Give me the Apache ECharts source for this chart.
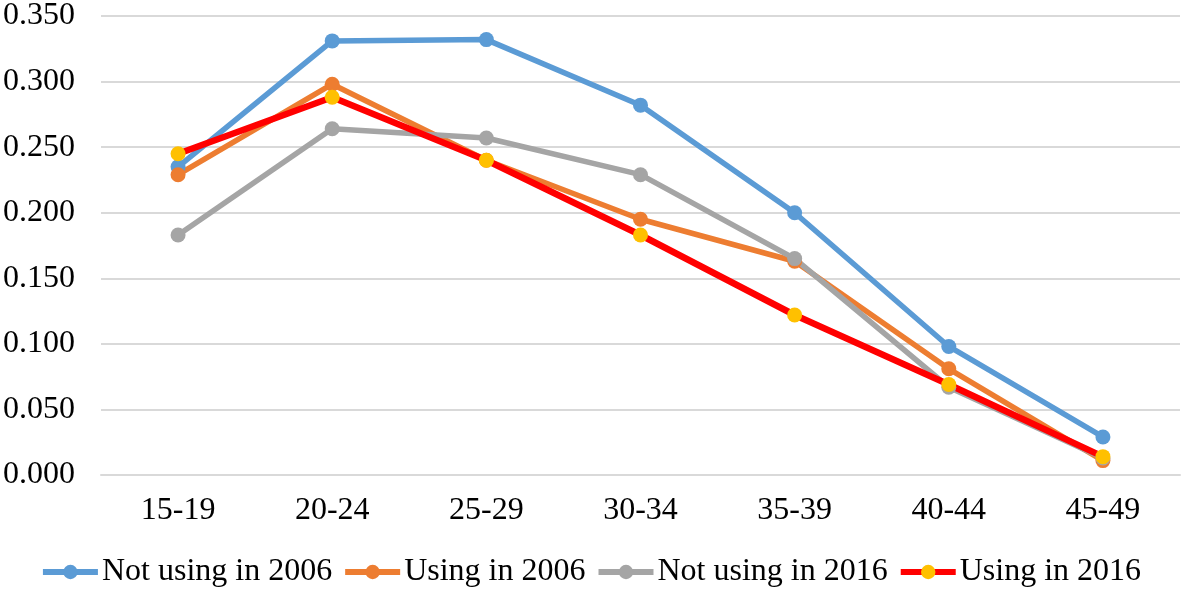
<!DOCTYPE html>
<html>
<head>
<meta charset="utf-8">
<script src="https://cdn.jsdelivr.net/npm/echarts@6/dist/echarts.min.js"></script>
<style>
html,body{margin:0;padding:0;background:#fff;}
#main{width:1181px;height:589px;}
</style>
</head>
<body>
<div id="main"></div>
<script>
const categories = ['15-19','20-24','25-29','30-34','35-39','40-44','45-49'];
const notUsing2006 = [0.235, 0.331, 0.332, 0.282, 0.200, 0.098, 0.029];
const using2006 = [0.229, 0.298, 0.240, 0.195, 0.163, 0.081, 0.011];
const notUsing2016 = [0.183, 0.264, 0.257, 0.229, 0.165, 0.067, 0.013];
const using2016 = [0.245, 0.288, 0.240, 0.183, 0.122, 0.069, 0.014];
const seriesNames = ['Not using in 2006','Using in 2006','Not using in 2016','Using in 2016'];

const font = '"Liberation Serif", "Times New Roman", serif';
function mk(name, data, lineColor, markColor, width) {
  return {
    name: name, type: 'line', data: data,
    symbol: 'circle', symbolSize: 15, showSymbol: true,
    lineStyle: {color: lineColor, width: width},
    itemStyle: {color: markColor},
    emphasis: {disabled: true}
  };
}
const chart = echarts.init(document.getElementById('main'));
chart.setOption({
  animation: false,
  backgroundColor: '#fff',
  grid: {left: 98, right: 1, top: 12, bottom: 114},
  xAxis: {
    type: 'category', data: categories, boundaryGap: true,
    axisLine: {show: true, lineStyle: {color: '#d9d9d9', width: 2}},
    axisTick: {show: false},
    axisLabel: {color: '#000', fontFamily: font, fontSize: 32, margin: 20}
  },
  yAxis: {
    type: 'value', min: 0, max: 0.35, interval: 0.05,
    axisLine: {show: false}, axisTick: {show: false},
    axisLabel: {color: '#000', fontFamily: font, fontSize: 32, margin: 26,
      formatter: v => v.toFixed(3)},
    splitLine: {lineStyle: {color: '#d9d9d9', width: 2}}
  },
  legend: {
    bottom: -4, left: 'center', itemWidth: 55, itemHeight: 18, itemGap: 10,
    lineStyle: {width: 6},
    textStyle: {color: '#000', fontFamily: font, fontSize: 32, padding: [0,0,0,-1]},
    data: seriesNames
  },
  series: [
    mk(seriesNames[0], notUsing2006, '#5B9BD5', '#5B9BD5', 5.5),
    mk(seriesNames[1], using2006, '#ED7D31', '#ED7D31', 5.5),
    mk(seriesNames[2], notUsing2016, '#A5A5A5', '#A5A5A5', 5.5),
    mk(seriesNames[3], using2016, '#FF0000', '#FFC000', 6.5)
  ]
});
</script>
</body>
</html>
